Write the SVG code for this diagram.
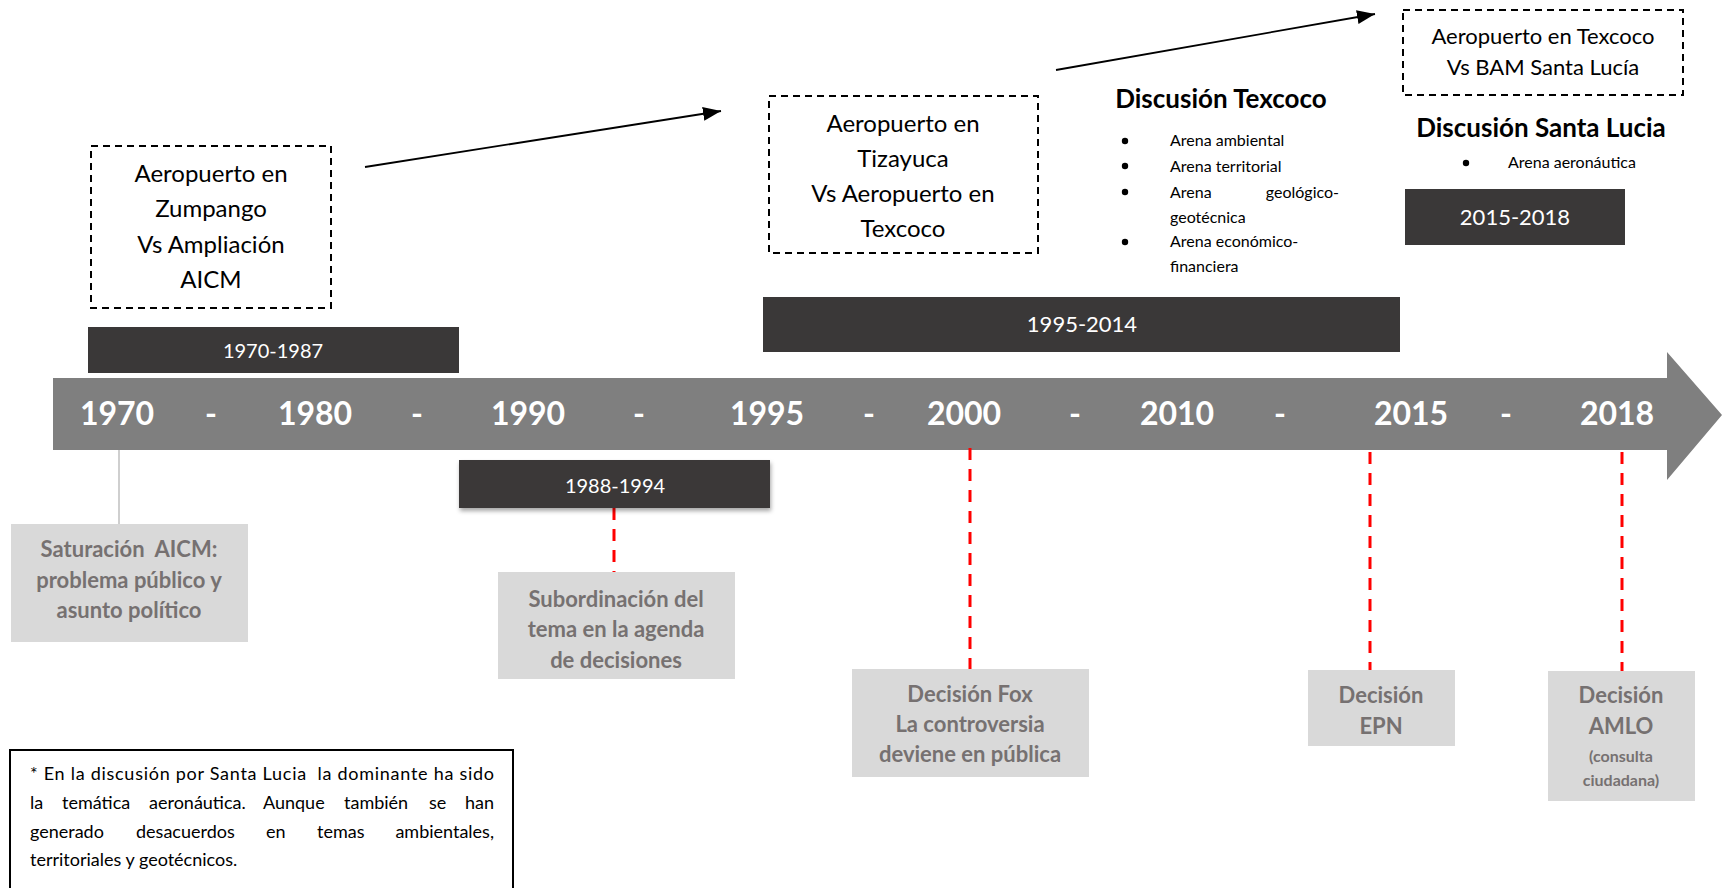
<svg xmlns="http://www.w3.org/2000/svg" width="1722" height="888" viewBox="0 0 1722 888">
<defs>
<style>
.dash{fill:#fff;stroke:#000;stroke-width:2;stroke-dasharray:7 5}
.dt{font-family:Lato,"Open Sans","Liberation Sans",sans-serif;font-size:24px;fill:#000;text-anchor:middle}
.bar{fill:#3a3838}
.bt{font-family:Lato,"Open Sans","Liberation Sans",sans-serif;font-size:20px;fill:#fff;text-anchor:middle}
.yr{font-family:Lato,"Open Sans","Liberation Sans",sans-serif;font-size:32px;font-weight:bold;fill:#fff;text-anchor:middle}
.gb{fill:#d9d9d9}
.gt{font-family:Lato,"Open Sans","Liberation Sans",sans-serif;font-size:22px;font-weight:bold;fill:#767171;text-anchor:middle}
.hd{font-family:Lato,"Open Sans","Liberation Sans",sans-serif;font-size:26px;font-weight:bold;fill:#000;text-anchor:middle}
.li{font-family:Lato,"Open Sans","Liberation Sans",sans-serif;font-size:16px;fill:#000}
.red{stroke:#ff0000;stroke-width:3;stroke-dasharray:12 9;fill:none}
.arr{stroke:#000;stroke-width:1.8;fill:none;marker-end:url(#ah)}
.note{font-family:Lato,"Open Sans","Liberation Sans",sans-serif;font-size:18px;fill:#000}
</style>
<marker id="ah" markerUnits="userSpaceOnUse" markerWidth="20" markerHeight="16" refX="18" refY="7" orient="auto">
<path d="M0,0 L18,7 L0,14 Z" fill="#000"/>
</marker>
<filter id="sh" x="-10%" y="-20%" width="120%" height="160%">
<feDropShadow dx="1" dy="3" stdDeviation="2" flood-color="#000" flood-opacity="0.35"/>
</filter>
</defs>
<rect width="1722" height="888" fill="#fff"/>

<g id="timeline">
<path d="M53,378 H1667 V352 L1722,415 L1667,480 V450 H53 Z" fill="#7f7f7f"/>
<text class="yr" x="117" y="425">1970</text>
<text class="yr" x="211" y="425">-</text>
<text class="yr" x="315" y="425">1980</text>
<text class="yr" x="417" y="425">-</text>
<text class="yr" x="528" y="425">1990</text>
<text class="yr" x="639" y="425">-</text>
<text class="yr" x="767" y="425">1995</text>
<text class="yr" x="869" y="425">-</text>
<text class="yr" x="964" y="425">2000</text>
<text class="yr" x="1075" y="425">-</text>
<text class="yr" x="1177" y="425">2010</text>
<text class="yr" x="1280" y="425">-</text>
<text class="yr" x="1411" y="425">2015</text>
<text class="yr" x="1506" y="425">-</text>
<text class="yr" x="1617" y="425">2018</text>
</g>

<g id="connectors">
<line class="arr" x1="365" y1="167" x2="721" y2="111"/>
<line class="arr" x1="1056" y1="70" x2="1375" y2="14"/>
<line x1="119" y1="450" x2="119" y2="524" stroke="#bfbfbf" stroke-width="1.5"/>
<line class="red" x1="614" y1="508" x2="614" y2="572"/>
<line class="red" x1="970" y1="448" x2="970" y2="669"/>
<line class="red" x1="1370" y1="452" x2="1370" y2="670"/>
<line class="red" x1="1622" y1="452" x2="1622" y2="671"/>
</g>

<g id="box-zumpango">
<rect class="dash" x="91" y="146" width="240" height="162"/>
<text class="dt" x="211" y="182">Aeropuerto en</text>
<text class="dt" x="211" y="217">Zumpango</text>
<text class="dt" x="211" y="253">Vs Ampliación</text>
<text class="dt" x="211" y="288">AICM</text>
</g>

<g id="bar-1970-1987">
<rect class="bar" x="88" y="327" width="371" height="46"/>
<text class="bt" x="273" y="358">1970-1987</text>
</g>

<g id="box-tizayuca">
<rect class="dash" x="769" y="96" width="269" height="157"/>
<text class="dt" x="903" y="132">Aeropuerto en</text>
<text class="dt" x="903" y="167">Tizayuca</text>
<text class="dt" x="903" y="202">Vs Aeropuerto en</text>
<text class="dt" x="903" y="237">Texcoco</text>
</g>

<g id="bar-1995-2014">
<rect class="bar" x="763" y="297" width="637" height="55"/>
<text class="bt" x="1082" y="332" style="font-size:22px">1995-2014</text>
</g>

<g id="discusion-texcoco">
<text class="hd" x="1221" y="108">Discusión Texcoco</text>
<circle cx="1125" cy="141" r="3.2"/>
<circle cx="1125" cy="166" r="3.2"/>
<circle cx="1125" cy="192" r="3.2"/>
<circle cx="1125" cy="242" r="3.2"/>
<text class="li" x="1170" y="146">Arena ambiental</text>
<text class="li" x="1170" y="172">Arena territorial</text>
<text class="li" x="1170" y="198"><tspan x="1170">Arena</tspan><tspan x="1339" text-anchor="end">geológico-</tspan></text>
<text class="li" x="1170" y="223">geotécnica</text>
<text class="li" x="1170" y="247">Arena económico-</text>
<text class="li" x="1170" y="272">financiera</text>
</g>

<g id="box-texcoco-bam">
<rect class="dash" x="1403" y="10" width="280" height="85"/>
<text class="dt" x="1543" y="44" style="font-size:22px">Aeropuerto en Texcoco</text>
<text class="dt" x="1543" y="75" style="font-size:22px">Vs BAM Santa Lucía</text>
</g>

<g id="discusion-santa-lucia">
<text class="hd" x="1541" y="137">Discusión Santa Lucia</text>
<circle cx="1466" cy="163" r="3.2"/>
<text class="li" x="1508" y="168">Arena aeronáutica</text>
</g>

<g id="bar-2015-2018">
<rect class="bar" x="1405" y="189" width="220" height="56"/>
<text class="bt" x="1515" y="225" style="font-size:22px">2015-2018</text>
</g>

<g id="bar-1988-1994">
<rect class="bar" x="459" y="460" width="311" height="48" filter="url(#sh)"/>
<text class="bt" x="615" y="493">1988-1994</text>
</g>

<g id="box-saturacion">
<rect class="gb" x="11" y="524" width="237" height="118"/>
<text class="gt" x="129" y="557" xml:space="preserve">Saturación  AICM:</text>
<text class="gt" x="129" y="588">problema público y</text>
<text class="gt" x="129" y="618">asunto político</text>
</g>

<g id="box-subordinacion">
<rect class="gb" x="498" y="572" width="237" height="107"/>
<text class="gt" x="616" y="607">Subordinación del</text>
<text class="gt" x="616" y="637">tema en la agenda</text>
<text class="gt" x="616" y="668">de decisiones</text>
</g>

<g id="box-fox">
<rect class="gb" x="852" y="669" width="237" height="108"/>
<text class="gt" x="970" y="702">Decisión Fox</text>
<text class="gt" x="970" y="732">La controversia</text>
<text class="gt" x="970" y="762">deviene en pública</text>
</g>

<g id="box-epn">
<rect class="gb" x="1308" y="670" width="147" height="76"/>
<text class="gt" x="1381" y="703">Decisión</text>
<text class="gt" x="1381" y="734">EPN</text>
</g>

<g id="box-amlo">
<rect class="gb" x="1548" y="671" width="147" height="130"/>
<text class="gt" x="1621" y="703">Decisión</text>
<text class="gt" x="1621" y="734">AMLO</text>
<text class="gt" x="1621" y="762" style="font-size:16px">(consulta</text>
<text class="gt" x="1621" y="786" style="font-size:16px">ciudadana)</text>
</g>

<g id="note">
<rect x="10" y="750" width="503" height="150" fill="#fff" stroke="#000" stroke-width="2"/>
<text class="note" x="30" y="780" textLength="464" lengthAdjust="spacing" xml:space="preserve">* En la discusión por Santa Lucia  la dominante ha sido</text>
<text class="note" y="809"><tspan x="30">la</tspan><tspan x="62">temática</tspan><tspan x="149">aeronáutica.</tspan><tspan x="263">Aunque</tspan><tspan x="344">también</tspan><tspan x="429">se</tspan><tspan x="494" text-anchor="end">han</tspan></text>
<text class="note" y="838"><tspan x="30">generado</tspan><tspan x="136">desacuerdos</tspan><tspan x="266">en</tspan><tspan x="317">temas</tspan><tspan x="494" text-anchor="end">ambientales,</tspan></text>
<text class="note" x="30" y="866">territoriales y geotécnicos.</text>
</g>
</svg>
